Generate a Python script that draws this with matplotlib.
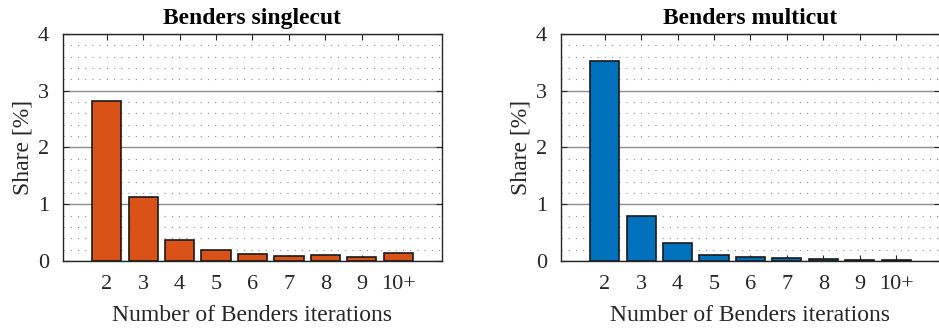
import numpy as np
import matplotlib.pyplot as plt
from matplotlib.ticker import MultipleLocator

plt.rcParams['font.family'] = ['Liberation Serif', 'DejaVu Serif']

labels = ['2', '3', '4', '5', '6', '7', '8', '9', '10+']
single = [2.82, 1.12, 0.37, 0.20, 0.13, 0.085, 0.10, 0.075, 0.14]
multi = [3.53, 0.80, 0.31, 0.11, 0.062, 0.057, 0.032, 0.015, 0.02]
titles = ['Benders singlecut', 'Benders multicut']
colors = ['#D95319', '#0072BD']

fig = plt.figure(figsize=(9.39, 3.29), dpi=100)
ax_pos = [[0.0671, 0.2067, 0.4036, 0.69], [0.5974, 0.2067, 0.4036, 0.69]]

x = np.arange(len(labels))
for pos, vals, title, col in zip(ax_pos, [single, multi], titles, colors):
    ax = fig.add_axes(pos)
    ax.bar(x, vals, width=0.8, color=col, edgecolor='#1a1a1a', linewidth=1.2, zorder=3)
    ax.set_xlim(-1.2, len(labels) - 1 + 1.2)
    ax.set_ylim(0, 4)
    ax.set_xticks(x)
    ax.set_xticklabels(labels)
    ax.yaxis.set_major_locator(MultipleLocator(1))
    ax.yaxis.set_minor_locator(MultipleLocator(0.2))
    ax.grid(axis='y', which='major', color='#8c8c8c', linewidth=1.0, zorder=0)
    ax.grid(axis='y', which='minor', color='#888888', linewidth=0.8,
            linestyle=(0, (1, 5.5)), zorder=0)
    ax.set_axisbelow(True)
    ax.tick_params(which='major', direction='in', length=4, width=0.8,
                   top=True, right=True, labelsize=16, colors='#262626', pad=10)
    ax.tick_params(which='minor', length=0)
    for s in ax.spines.values():
        s.set_color('#262626')
        s.set_linewidth(1.0)
    ax.set_title(title, fontsize=17, fontweight='bold', pad=7)
    ax.set_xlabel('Number of Benders iterations', fontsize=17, color='#262626', labelpad=8)
    ax.set_ylabel('Share [%]', fontsize=17, color='#262626', labelpad=3)

fig.savefig('out.png', dpi=100)
